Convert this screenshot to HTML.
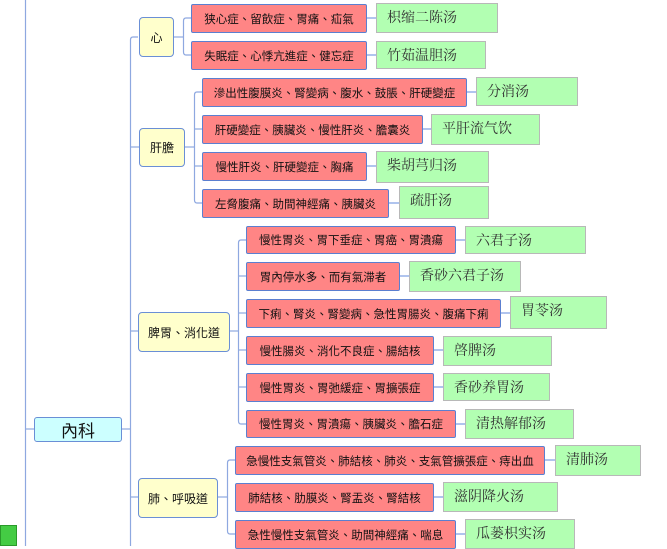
<!DOCTYPE html>
<html><head><meta charset="utf-8"><style>
body{margin:0;width:667px;height:546px;overflow:hidden;background:#fff;position:relative;font-family:"Liberation Sans","Noto Sans CJK TC",sans-serif}
.b{position:absolute;box-sizing:border-box;display:flex;align-items:center;justify-content:center;white-space:nowrap}
.y{background:#ffffcc;border:1.5px solid #6a8fd6;border-radius:4px;font-size:12px;color:#111}
.r{background:#ff8585;border:1.5px solid #5b7fd0;border-radius:2px;font-size:11.5px;color:#111}
.g{background:#b2ffb2;border:1.5px solid #b8b8b8;justify-content:flex-start;align-items:flex-start;padding:3px 0 0 10px;font-family:"Liberation Serif","Noto Serif CJK SC",serif;font-size:14px;color:#333}
svg{position:absolute;left:0;top:0}
</style></head><body>
<svg width="667" height="546" fill="none" stroke="#8ea8e0" stroke-width="1.2">
<line x1="25.5" y1="0" x2="25.5" y2="546"/>
<line x1="25" y1="429" x2="34" y2="429"/>
<line x1="121" y1="429" x2="130" y2="429"/>
<path d="M138 37 H133 Q130.5 37 130.5 40 V546"/>
<line x1="130" y1="147" x2="139" y2="147"/>
<line x1="130" y1="331" x2="138" y2="331"/>
<line x1="130" y1="497" x2="138" y2="497"/>
<line x1="173" y1="37" x2="183" y2="37"/>
<path d="M191 18 H186 Q183.5 18 183.5 21 V52 Q183.5 55 186 55 H191"/>
<line x1="184" y1="147" x2="194" y2="147"/>
<path d="M202 92 H197 Q194.5 92 194.5 95 V200 Q194.5 203 197 203 H202"/>
<line x1="194" y1="129" x2="202" y2="129"/>
<line x1="194" y1="166" x2="202" y2="166"/>
<line x1="229" y1="331" x2="239" y2="331"/>
<path d="M246 240 H241 Q238.5 240 238.5 243 V421 Q238.5 424 241 424 H246"/>
<line x1="238" y1="276" x2="246" y2="276"/>
<line x1="238" y1="313" x2="246" y2="313"/>
<line x1="238" y1="350" x2="246" y2="350"/>
<line x1="238" y1="387" x2="246" y2="387"/>
<line x1="217" y1="497" x2="228" y2="497"/>
<path d="M235 460 H230 Q227.5 460 227.5 463 V531 Q227.5 534 230 534 H235"/>
<g stroke="#b0c4ee" stroke-width="2">
<line x1="366" y1="18" x2="376" y2="18"/><line x1="366" y1="55" x2="376" y2="55"/>
<line x1="466" y1="92" x2="476" y2="92"/><line x1="422" y1="129" x2="431" y2="129"/>
<line x1="366" y1="166" x2="376" y2="166"/><line x1="388" y1="203" x2="399" y2="203"/>
<line x1="455" y1="240" x2="465" y2="240"/><line x1="399" y1="276" x2="409" y2="276"/>
<line x1="500" y1="313" x2="510" y2="313"/><line x1="433" y1="350" x2="443" y2="350"/>
<line x1="433" y1="387" x2="443" y2="387"/><line x1="455" y1="424" x2="465" y2="424"/>
<line x1="544" y1="460" x2="555" y2="460"/><line x1="433" y1="497" x2="443" y2="497"/>
<line x1="455" y1="534" x2="465" y2="534"/>
</g>
</svg>
<div class="b" style="left:0;top:525px;width:17px;height:21px;background:#44cc44;border:1px solid #2a9a2a;box-sizing:border-box"></div>
<div class="b" style="left:34px;top:417px;width:88px;height:25px;background:#ccffff;border:1.5px solid #6a8fd6;border-radius:3px;font-size:17px;color:#111">內科</div>

<div class="b y" style="left:139px;top:17px;width:35px;height:40px">心</div>
<div class="b y" style="left:139px;top:128px;width:46px;height:39px">肝膽</div>
<div class="b y" style="left:138px;top:312px;width:92px;height:40px">脾胃、消化道</div>
<div class="b y" style="left:138px;top:478px;width:80px;height:40px">肺、呼吸道</div>

<div class="b r" style="left:191px;top:4px;width:176px;height:29px">狭心症、留飲症、胃痛、疝氣</div>
<div class="b r" style="left:191px;top:41px;width:176px;height:29px">失眠症、心悸亢進症、健忘症</div>
<div class="b r" style="left:202px;top:78px;width:265px;height:29px">滲出性腹膜炎、腎變病、腹水、鼓脹、肝硬變症</div>
<div class="b r" style="left:202px;top:115px;width:221px;height:29px">肝硬變症、胰臟炎、慢性肝炎、膽囊炎</div>
<div class="b r" style="left:202px;top:152px;width:165px;height:29px">慢性肝炎、肝硬變症、胸痛</div>
<div class="b r" style="left:202px;top:189px;width:187px;height:29px">左脅腹痛、助間神經痛、胰臟炎</div>
<div class="b r" style="left:246px;top:226px;width:210px;height:28px">慢性胃炎、胃下垂症、胃癌、胃潰瘍</div>
<div class="b r" style="left:246px;top:262px;width:154px;height:29px">胃內停水多、而有氣滞者</div>
<div class="b r" style="left:246px;top:299px;width:255px;height:29px">下痢、腎炎、腎變病、急性胃腸炎、腹痛下痢</div>
<div class="b r" style="left:246px;top:336px;width:188px;height:29px">慢性腸炎、消化不良症、腸結核</div>
<div class="b r" style="left:246px;top:373px;width:188px;height:29px">慢性胃炎、胃弛緩症、胃擴張症</div>
<div class="b r" style="left:246px;top:410px;width:210px;height:28px">慢性胃炎、胃潰瘍、胰臟炎、膽石症</div>
<div class="b r" style="left:235px;top:446px;width:310px;height:29px">急慢性支氣管炎、肺結核、肺炎、支氣管擴張症、痔出血</div>
<div class="b r" style="left:235px;top:483px;width:199px;height:29px">肺結核、肋膜炎、腎盂炎、腎結核</div>
<div class="b r" style="left:235px;top:520px;width:221px;height:29px">急性慢性支氣管炎、助間神經痛、喘息</div>

<div class="b g" style="left:376px;top:3px;width:122px;height:30px">枳缩二陈汤</div>
<div class="b g" style="left:376px;top:41px;width:110px;height:28px">竹茹温胆汤</div>
<div class="b g" style="left:476px;top:77px;width:102px;height:29px">分消汤</div>
<div class="b g" style="left:431px;top:114px;width:109px;height:31px">平肝流气饮</div>
<div class="b g" style="left:376px;top:151px;width:113px;height:32px">柴胡芎归汤</div>
<div class="b g" style="left:399px;top:186px;width:90px;height:33px">疏肝汤</div>
<div class="b g" style="left:465px;top:226px;width:121px;height:28px">六君子汤</div>
<div class="b g" style="left:409px;top:261px;width:112px;height:31px">香砂六君子汤</div>
<div class="b g" style="left:510px;top:296px;width:97px;height:33px">胃苓汤</div>
<div class="b g" style="left:443px;top:336px;width:109px;height:30px">啓脾汤</div>
<div class="b g" style="left:443px;top:373px;width:107px;height:28px">香砂养胃汤</div>
<div class="b g" style="left:465px;top:409px;width:109px;height:30px">清热解郁汤</div>
<div class="b g" style="left:555px;top:445px;width:86px;height:31px">清肺汤</div>
<div class="b g" style="left:443px;top:482px;width:115px;height:30px">滋阴降火汤</div>
<div class="b g" style="left:465px;top:519px;width:110px;height:30px">瓜蒌枳实汤</div>
</body></html>
